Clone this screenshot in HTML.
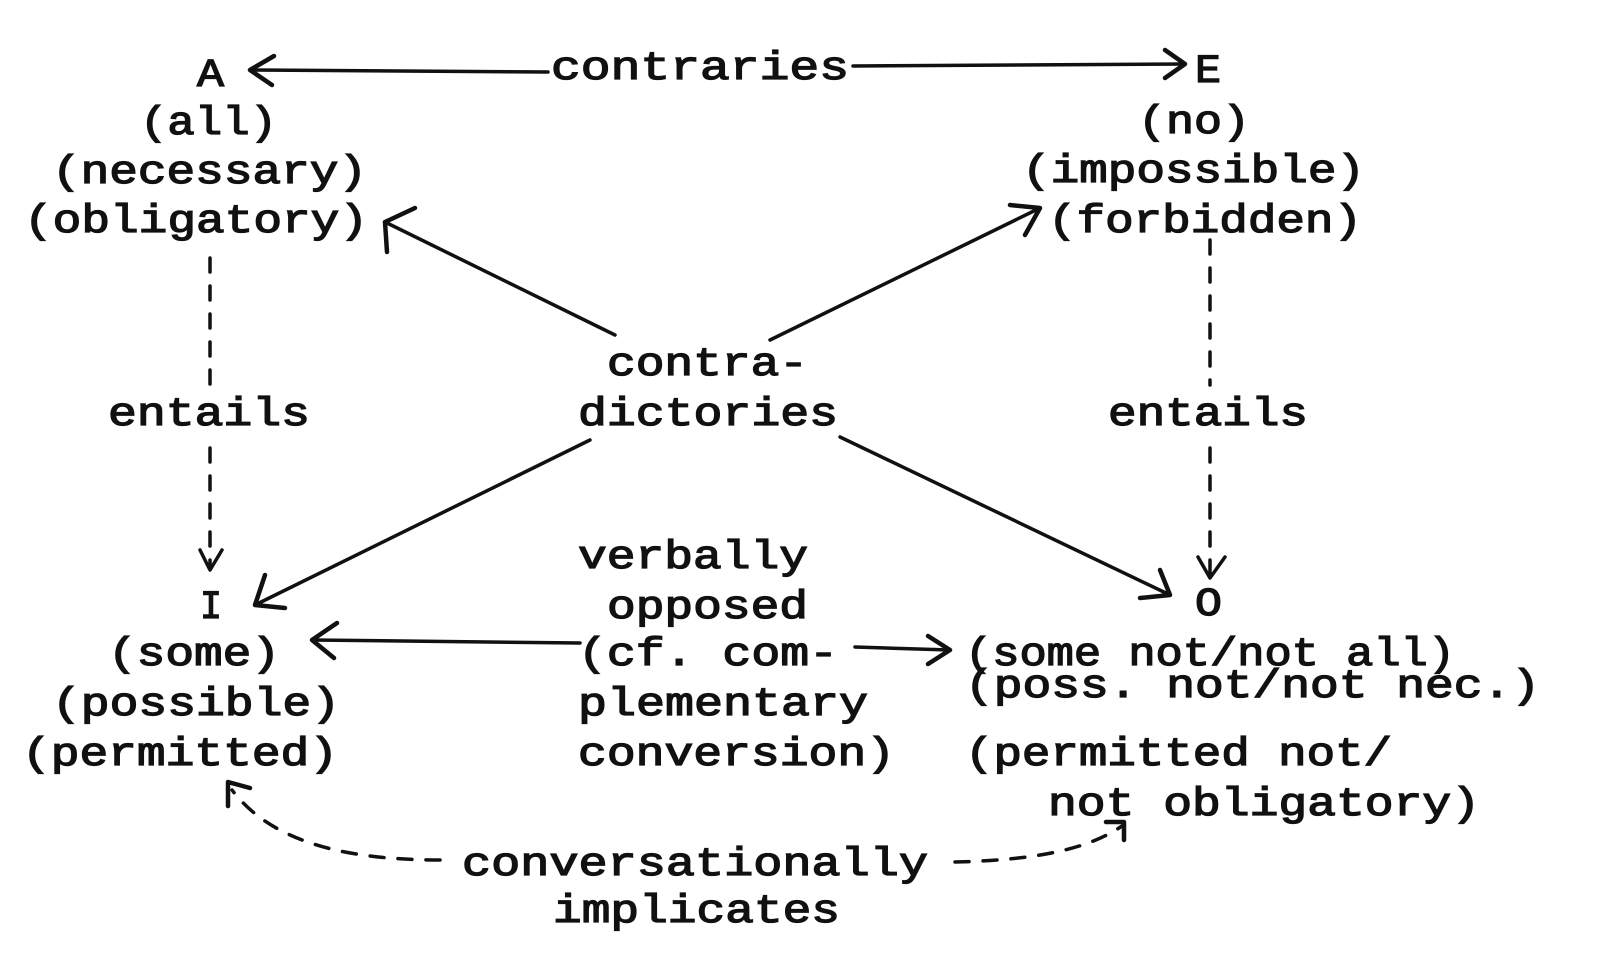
<!DOCTYPE html>
<html><head><meta charset="utf-8"><style>
html,body{margin:0;padding:0;background:#fff;}
svg{display:block;}
text{font-family:"Liberation Mono","DejaVu Sans Mono",monospace;font-size:40px;fill:#111;stroke:#111;stroke-width:1.3;}
.l{stroke:#111;stroke-width:3.5;fill:none;stroke-linecap:round;stroke-linejoin:round;}
.h{stroke-width:4.5;}
.d{stroke-dasharray:14 14;}
</style></head><body>
<svg width="1600" height="978" viewBox="0 0 1600 978" xmlns="http://www.w3.org/2000/svg">
<text x="197" y="86" textLength="27" lengthAdjust="spacingAndGlyphs">A</text>
<text x="140" y="134" textLength="137" lengthAdjust="spacingAndGlyphs">(all)</text>
<text x="52" y="183" textLength="315" lengthAdjust="spacingAndGlyphs">(necessary)</text>
<text x="24" y="232" textLength="344" lengthAdjust="spacingAndGlyphs">(obligatory)</text>
<text x="1195" y="82" textLength="26" lengthAdjust="spacingAndGlyphs">E</text>
<text x="1138" y="133" textLength="112" lengthAdjust="spacingAndGlyphs">(no)</text>
<text x="1022" y="182" textLength="343" lengthAdjust="spacingAndGlyphs">(impossible)</text>
<text x="1048" y="232" textLength="314" lengthAdjust="spacingAndGlyphs">(forbidden)</text>
<text x="551" y="79" textLength="298" lengthAdjust="spacingAndGlyphs">contraries</text>
<text x="607" y="375" textLength="201" lengthAdjust="spacingAndGlyphs">contra-</text>
<text x="578" y="425" textLength="260" lengthAdjust="spacingAndGlyphs">dictories</text>
<text x="108" y="425" textLength="202" lengthAdjust="spacingAndGlyphs">entails</text>
<text x="1108" y="425" textLength="200" lengthAdjust="spacingAndGlyphs">entails</text>
<text x="578" y="568" textLength="230" lengthAdjust="spacingAndGlyphs">verbally</text>
<text x="607" y="618" textLength="201" lengthAdjust="spacingAndGlyphs">opposed</text>
<text x="578" y="665" textLength="260" lengthAdjust="spacingAndGlyphs">(cf. com-</text>
<text x="578" y="715" textLength="290" lengthAdjust="spacingAndGlyphs">plementary</text>
<text x="578" y="765" textLength="317" lengthAdjust="spacingAndGlyphs">conversion)</text>
<text x="200" y="618" textLength="22" lengthAdjust="spacingAndGlyphs">I</text>
<text x="108" y="665" textLength="172" lengthAdjust="spacingAndGlyphs">(some)</text>
<text x="52" y="715" textLength="288" lengthAdjust="spacingAndGlyphs">(possible)</text>
<text x="22" y="765" textLength="316" lengthAdjust="spacingAndGlyphs">(permitted)</text>
<text x="1195" y="615" textLength="27" lengthAdjust="spacingAndGlyphs">O</text>
<text x="965" y="665" textLength="490" lengthAdjust="spacingAndGlyphs">(some not/not all)</text>
<text x="965" y="697" textLength="575" lengthAdjust="spacingAndGlyphs">(poss. not/not nec.)</text>
<text x="965" y="765" textLength="427" lengthAdjust="spacingAndGlyphs">(permitted not/</text>
<text x="1048" y="815" textLength="432" lengthAdjust="spacingAndGlyphs">not obligatory)</text>
<text x="462" y="875" textLength="466" lengthAdjust="spacingAndGlyphs">conversationally</text>
<text x="553" y="922" textLength="287" lengthAdjust="spacingAndGlyphs">implicates</text>

<path class="l" d="M252 70 L548 72"/><path class="l h" d="M274 56 L250 70 L272 85"/>
<path class="l" d="M853 66 L1185 64"/><path class="l h" d="M1165 50 L1185 64 L1165 78"/>
<path class="l" d="M615 335 L385 222"/><path class="l h" d="M387 252 L385 222 L415 208"/>
<path class="l" d="M770 340 L1040 208"/><path class="l h" d="M1010 205 L1040 208 L1025 235"/>
<path class="l" d="M590 440 L255 605"/><path class="l h" d="M265 575 L255 605 L285 608"/>
<path class="l" d="M840 437 L1170 595"/><path class="l h" d="M1160 570 L1170 595 L1140 598"/>
<path class="l d" d="M210 258 L210 390"/><path class="l d" d="M210 448 L210 568"/>
<path class="l" d="M200 550 L210 570 L222 550"/>
<path class="l d" d="M1210 240 L1210 385"/><path class="l d" d="M1210 448 L1210 575"/>
<path class="l" d="M1198 557 L1210 578 L1225 557"/>
<path class="l" d="M580 643 L312 640"/><path class="l h" d="M337 623 L312 640 L334 658"/>
<path class="l" d="M855 647 L950 650"/><path class="l h" d="M928 636 L950 650 L928 664"/>
<path class="l d" d="M440 860 C340 860 270 840 232 790"/><path class="l h" d="M228 806 L228 782 L250 788"/>
<path class="l d" d="M955 862 C1040 860 1090 848 1122 826"/><path class="l h" d="M1106 822 L1124 822 L1124 840"/>
</svg>
</body></html>
